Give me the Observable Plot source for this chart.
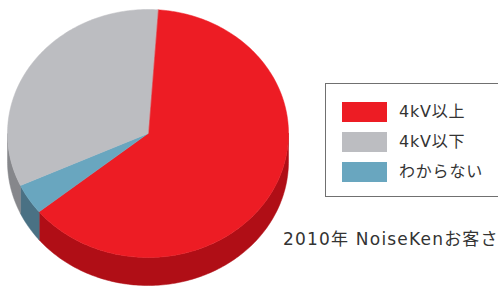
<!DOCTYPE html>
<html><head><meta charset="utf-8">
<script src="https://cdn.jsdelivr.net/npm/d3@7"></script>
<script src="https://cdn.jsdelivr.net/npm/@observablehq/plot@0.6"></script>
<style>
body{margin:0;background:#fff;font-family:"DejaVu Sans","Noto Sans CJK JP",sans-serif;}
#wrap{position:relative;width:498px;height:286px;overflow:hidden;}
#legend{position:absolute;left:325px;top:83px;width:180px;height:114px;border:1.5px solid #707070;box-sizing:border-box;}
.item{position:absolute;left:16px;height:20px;display:flex;align-items:center;}
.sw{width:45px;height:20px;margin-right:12px;}
.lb{font-size:16px;letter-spacing:0.8px;color:#333;white-space:nowrap;line-height:20px;}
#caption{position:absolute;left:283px;top:229px;font-size:17px;letter-spacing:1.2px;color:#333;white-space:nowrap;line-height:20px;}
</style></head>
<body><div id="wrap"><div id="chart"></div><div id="legend"></div><div id="caption"></div></div>
<script>
// data (legend order)
const categories = ["4kV以上", "4kV以下", "わからない"];
const values = [63, 33, 4];
const topColors = ["#ed1c24", "#bcbdc1", "#69a6bf"];
const sideColors = ["#b00e16", "#86878b", "#4a7184"];
const pieOrder = [0, 2, 1];      // clockwise order in the pie
const startDeg = 4;              // start angle, clockwise from top
const captionText = "2010年 NoiseKenお客さ";

const depth = 0.226;
const toRad = Math.PI / 180;
const pie = d3.pie().sort(null).value(i => values[i])
  .startAngle(startDeg * toRad).endAngle(startDeg * toRad + 2 * Math.PI);
const arcs = pie(pieOrder);

const topPts = [], sidePts = [];
arcs.forEach(a => {
  const i = a.data;
  const a0 = a.startAngle / toRad, a1 = a.endAngle / toRad;
  const pts = [{x: 0, y: 0}];
  const n = Math.max(2, Math.ceil(a1 - a0));
  for (let k = 0; k <= n; k++) {
    const t = (a0 + (a1 - a0) * k / n) * toRad;
    pts.push({x: Math.sin(t), y: Math.cos(t)});
  }
  pts.forEach(p => topPts.push({...p, key: "t" + i, color: topColors[i]}));
  // visible side wall: 90..270 deg
  const s0 = Math.max(a0, 90), s1 = Math.min(a1, 270);
  if (s1 > s0) {
    const m = Math.max(2, Math.ceil(s1 - s0));
    const up = [];
    for (let k = 0; k <= m; k++) {
      const t = (s0 + (s1 - s0) * k / m) * toRad;
      up.push({x: Math.sin(t), y: Math.cos(t)});
    }
    const down = up.map(p => ({x: p.x, y: p.y - depth})).reverse();
    [...up, ...down].forEach(p => sidePts.push({...p, key: "s" + i, color: sideColors[i]}));
  }
});

const chart = Plot.plot({
  width: 498, height: 286,
  margin: 0,
  x: {domain: [-1, 1], range: [7, 288], axis: null},
  y: {domain: [-1, 1], range: [257, 9], axis: null},
  color: {type: "identity"},
  marks: [
    Plot.line(sidePts, {x: "x", y: "y", z: "key", fill: "color", stroke: "color", strokeWidth: 0.5, curve: "linear-closed"}),
    Plot.line(topPts, {x: "x", y: "y", z: "key", fill: "color", stroke: "color", strokeWidth: 0.5, curve: "linear-closed"})
  ]
});
document.getElementById("chart").appendChild(chart);

const legend = document.getElementById("legend");
categories.forEach((c, i) => {
  const d = document.createElement("div");
  d.className = "item";
  d.style.top = (18 + i * 30) + "px";
  d.innerHTML = `<div class="sw" style="background:${topColors[i]}"></div><span class="lb">${c}</span>`;
  legend.appendChild(d);
});
document.getElementById("caption").textContent = captionText;
</script></body></html>
